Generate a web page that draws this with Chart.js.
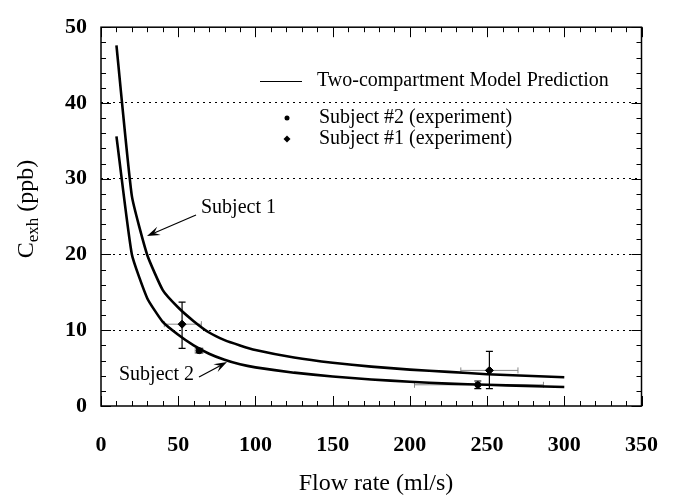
<!DOCTYPE html>
<html>
<head>
<meta charset="utf-8">
<script src="https://cdn.jsdelivr.net/npm/chart.js@4.4.1/dist/chart.umd.min.js"></script>
<style>
  html, body { margin: 0; padding: 0; background: #fff; }
  #wrap { width: 684px; height: 496px; position: relative; }
</style>
</head>
<body>
<div id="wrap"><canvas id="chart"></canvas></div>
<script>
// model curves (two-compartment prediction)
const FLOW = [10, 20, 30, 40, 50, 60, 70, 80, 90, 100, 125, 150, 175, 200, 225, 250, 275, 300];
const MODEL_S1 = [47.6, 27.7, 19.9, 15.3, 13.0, 11.2, 9.7, 8.7, 8.0, 7.4, 6.4, 5.7, 5.2, 4.8, 4.5, 4.2, 4.0, 3.8];
const MODEL_S2 = [35.6, 20.0, 14.2, 11.1, 9.4, 8.0, 6.9, 6.1, 5.5, 5.1, 4.4, 3.9, 3.5, 3.2, 2.95, 2.8, 2.65, 2.5];

// experiments, with error ranges
const S1_FLOW = [52.5, 251.5];
const S1_CEXH = [10.8, 4.7];
const S1_Y_LO = [7.6, 2.3];
const S1_Y_HI = [13.7, 7.2];
const S1_X_LO = [41, 233];
const S1_X_HI = [65, 270];

const S2_FLOW = [63.6, 244];
const S2_CEXH = [7.3, 2.8];
const S2_Y_LO = [7.0, 2.3];
const S2_Y_HI = [7.6, 3.3];
const S2_X_LO = [61, 203];
const S2_X_HI = [66, 286.5];

const X_MIN = 0, X_MAX = 350, X_STEP = 50, X_MINOR = 10;
const Y_MIN = 0, Y_MAX = 50, Y_STEP = 10, Y_MINOR = 2;

const SERIF = "'Liberation Serif', 'Times New Roman', serif";
const pts = (xs, ys) => xs.map((x, i) => ({ x, y: ys[i] }));

const errBars = {
  s1: { x: S1_FLOW, y: S1_CEXH, ylo: S1_Y_LO, yhi: S1_Y_HI, xlo: S1_X_LO, xhi: S1_X_HI },
  s2: { x: S2_FLOW, y: S2_CEXH, ylo: S2_Y_LO, yhi: S2_Y_HI, xlo: S2_X_LO, xhi: S2_X_HI }
};

function arrow(ctx, x0, y0, x1, y1) {
  const a = Math.atan2(y1 - y0, x1 - x0), L = 13, W = 4.5;
  ctx.beginPath(); ctx.moveTo(x0, y0); ctx.lineTo(x1 - L * 0.6 * Math.cos(a), y1 - L * 0.6 * Math.sin(a)); ctx.stroke();
  ctx.beginPath();
  ctx.moveTo(x1, y1);
  ctx.lineTo(x1 - L * Math.cos(a) + W * Math.sin(a), y1 - L * Math.sin(a) - W * Math.cos(a));
  ctx.lineTo(x1 - L * 0.6 * Math.cos(a), y1 - L * 0.6 * Math.sin(a));
  ctx.lineTo(x1 - L * Math.cos(a) - W * Math.sin(a), y1 - L * Math.sin(a) + W * Math.cos(a));
  ctx.closePath(); ctx.fill();
}

const decor = {
  id: "decor",
  beforeDatasetsDraw(chart) {
    const { ctx, scales: { x, y } } = chart;
    ctx.save();
    Object.values(errBars).forEach(s => {
      s.x.forEach((fx, i) => {
        const px = x.getPixelForValue(fx), py = y.getPixelForValue(s.y[i]);
        // horizontal (gray)
        const xl = x.getPixelForValue(s.xlo[i]), xr = x.getPixelForValue(s.xhi[i]);
        ctx.strokeStyle = "#888"; ctx.lineWidth = 1;
        ctx.beginPath(); ctx.moveTo(xl, py); ctx.lineTo(xr, py);
        ctx.moveTo(xl, py - 3); ctx.lineTo(xl, py + 3);
        ctx.moveTo(xr, py - 3); ctx.lineTo(xr, py + 3); ctx.stroke();
        // vertical (black)
        const yt = y.getPixelForValue(s.yhi[i]), yb = y.getPixelForValue(s.ylo[i]);
        ctx.strokeStyle = "#000"; ctx.lineWidth = 1.2;
        ctx.beginPath(); ctx.moveTo(px, yt); ctx.lineTo(px, yb);
        ctx.moveTo(px - 3.5, yt); ctx.lineTo(px + 3.5, yt);
        ctx.moveTo(px - 3.5, yb); ctx.lineTo(px + 3.5, yb); ctx.stroke();
      });
    });
    ctx.restore();
  },
  afterDraw(chart) {
    const { ctx, chartArea: a, scales: { x, y } } = chart;
    ctx.save();
    // frame
    ctx.strokeStyle = "#000"; ctx.lineWidth = 1.5;
    ctx.strokeRect(a.left, a.top, a.right - a.left, a.bottom - a.top);
    // inward ticks on all sides
    ctx.lineWidth = 1;
    ctx.beginPath();
    for (let v = X_MIN; v <= X_MAX; v += X_MINOR) {
      const px = Math.round(x.getPixelForValue(v)) + 0.5, len = v % X_STEP === 0 ? 10 : 5;
      ctx.moveTo(px, a.bottom); ctx.lineTo(px, a.bottom - len);
      ctx.moveTo(px, a.top); ctx.lineTo(px, a.top + len);
    }
    for (let v = Y_MIN; v <= Y_MAX; v += Y_MINOR) {
      const py = Math.round(y.getPixelForValue(v)) + 0.5, len = v % Y_STEP === 0 ? 10 : 5;
      ctx.moveTo(a.left, py); ctx.lineTo(a.left + len, py);
      ctx.moveTo(a.right, py); ctx.lineTo(a.right - len, py);
    }
    ctx.stroke();

    ctx.fillStyle = "#000";
    // x title
    ctx.font = "24px " + SERIF;
    ctx.textAlign = "center"; ctx.textBaseline = "middle";
    ctx.fillText("Flow rate (ml/s)", 376, 484);

    // y title with subscript
    ctx.save();
    ctx.translate(33, 209); ctx.rotate(-Math.PI / 2);
    ctx.textAlign = "left"; ctx.textBaseline = "alphabetic";
    const big = "24px " + SERIF, small = "17px " + SERIF;
    ctx.font = big; const wC = ctx.measureText("C").width, wP = ctx.measureText(" (ppb)").width;
    ctx.font = small; const wS = ctx.measureText("exh").width;
    let cx = -(wC + wS + wP) / 2;
    ctx.font = big; ctx.fillText("C", cx, 0); cx += wC;
    ctx.font = small; ctx.fillText("exh", cx, 5); cx += wS;
    ctx.font = big; ctx.fillText(" (ppb)", cx, 0);
    ctx.restore();

    // legend
    ctx.font = "20px " + SERIF;
    ctx.textAlign = "left"; ctx.textBaseline = "middle";
    ctx.lineWidth = 1;
    ctx.beginPath(); ctx.moveTo(260, 81.5); ctx.lineTo(302, 81.5); ctx.stroke();
    ctx.fillText("Two-compartment Model Prediction", 317, 81);
    ctx.beginPath(); ctx.arc(287, 118, 2.5, 0, Math.PI * 2); ctx.fill();
    ctx.fillText("Subject #2 (experiment)", 319, 118);
    ctx.beginPath(); ctx.moveTo(287, 135.5); ctx.lineTo(290.5, 139); ctx.lineTo(287, 142.5); ctx.lineTo(283.5, 139); ctx.closePath(); ctx.fill();
    ctx.fillText("Subject #1 (experiment)", 319, 139);

    // annotations
    ctx.fillText("Subject 1", 201, 208);
    ctx.fillText("Subject 2", 119, 375);
    ctx.lineWidth = 1.2;
    arrow(ctx, 196, 215, 147, 236);
    arrow(ctx, 199, 377, 227, 362);
    ctx.restore();
  }
};

new Chart(document.getElementById("chart"), {
  type: "scatter",
  data: {
    datasets: [
      { label: "Subject 1 model", data: pts(FLOW, MODEL_S1), showLine: true, borderColor: "#000", borderWidth: 2.6, pointRadius: 0, tension: 0.15 },
      { label: "Subject 2 model", data: pts(FLOW, MODEL_S2), showLine: true, borderColor: "#000", borderWidth: 2.6, pointRadius: 0, tension: 0.15 },
      { label: "Subject #2 (experiment)", data: pts(S2_FLOW, S2_CEXH), pointStyle: "circle", pointRadius: 3, backgroundColor: "#000", borderColor: "#000" },
      { label: "Subject #1 (experiment)", data: pts(S1_FLOW, S1_CEXH), pointStyle: "rectRot", pointRadius: 4, backgroundColor: "#000", borderColor: "#000" }
    ]
  },
  options: {
    responsive: true,
    maintainAspectRatio: false,
    animation: false,
    layout: { padding: { top: 20, right: 20, left: 0, bottom: 0 } },
    plugins: { legend: { display: false }, tooltip: { enabled: false } },
    scales: {
      x: {
        type: "linear", min: X_MIN, max: X_MAX,
        border: { display: false },
        grid: { display: false, drawTicks: false },
        ticks: { stepSize: X_STEP, padding: 26, color: "#000", font: { family: SERIF, size: 22, weight: "bold" } },
        afterFit: (s) => { s.height = 90; }
      },
      y: {
        type: "linear", min: Y_MIN, max: Y_MAX,
        border: { display: false, dash: [2, 4] },
        grid: {
          drawTicks: false, lineWidth: 1,
          color: (c) => (c.tick.value > Y_MIN && c.tick.value < Y_MAX ? "#000" : "rgba(0,0,0,0)")
        },
        ticks: { stepSize: Y_STEP, padding: 14, color: "#000", font: { family: SERIF, size: 22, weight: "bold" } },
        afterFit: (s) => { s.width = 101; }
      }
    }
  },
  plugins: [decor]
});
</script>
</body>
</html>
